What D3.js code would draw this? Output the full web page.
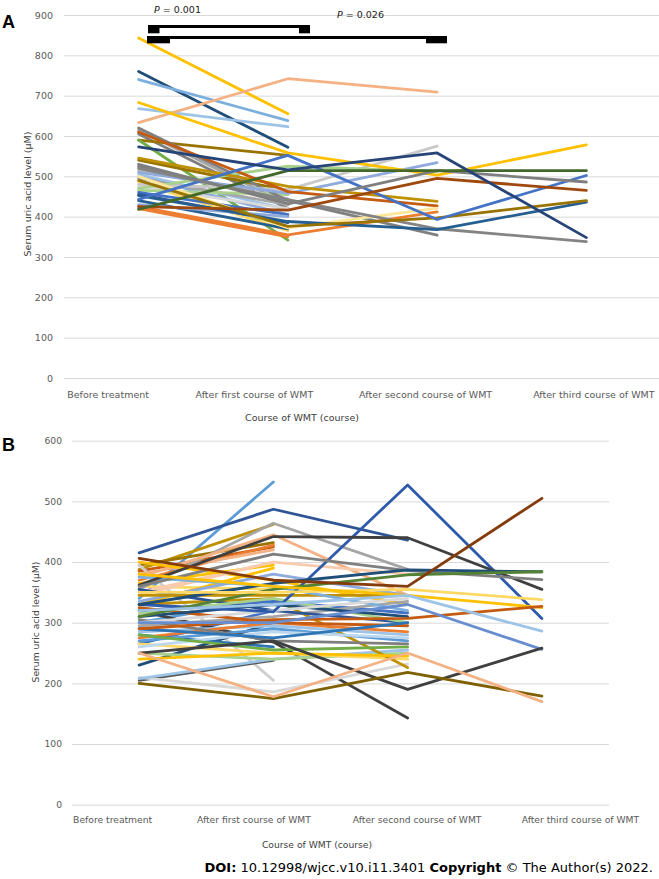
<!DOCTYPE html>
<html>
<head>
<meta charset="utf-8">
<script src="https://cdnjs.cloudflare.com/ajax/libs/d3/7.8.5/d3.min.js"></script>
<style>
body { margin: 0; background: #fff; }
svg text { font-family: "DejaVu Sans", Verdana, sans-serif; }
</style>
</head>
<body>
<div id="chart"></div>
<script>
// Categories (x axis)
var categories = ["Before treatment", "After first course of WMT", "After second course of WMT", "After third course of WMT"];

// Tick labels
var ticksA = [0, 100, 200, 300, 400, 500, 600, 700, 800, 900];
var ticksB = [0, 100, 200, 300, 400, 500, 600];

// Panel A: one row per patient, serum uric acid at each course (shorter row = fewer courses)
var patientsA = [
	[843, 655], [760, 572], [740, 638], [668, 623], [615, 430], [605, 420],
	[590, 552], [590, 342], [540, 465], [525, 440], [515, 445], [505, 418],
	[500, 405], [495, 430], [485, 365], [475, 420], [465, 455], [460, 405],
	[455, 385], [440, 370], [430, 400], [420, 350],
	[633, 742, 709], [620, 440, 354], [480, 467, 575], [510, 458, 534],
	[470, 525, 512], [545, 475, 438], [610, 462, 427], [500, 372, 421], [425, 355, 412],
	[683, 558, 503, 578], [520, 442, 370, 338], [452, 388, 368, 436], [490, 376, 397, 440],
	[443, 552, 393, 502], [425, 416, 495, 465], [530, 432, 514, 486], [418, 514, 514, 514],
	[573, 516, 558, 348]
];

// Panel B
var patientsB = [
	[340, 532], [388, 462], [385, 425], [395, 432], [370, 428], [365, 395],
	[360, 355], [395, 205], [205, 238], [230, 300], [350, 400], [380, 420],
	[330, 390], [300, 340], [280, 260], [265, 320],
	[415, 487, 436], [355, 464, 388], [375, 445, 345], [320, 268, 143], [210, 186, 232],
	[208, 240, 255], [250, 240, 250], [265, 250, 240], [330, 340, 226], [400, 370, 330],
	[345, 400, 380], [335, 380, 345], [320, 335, 316], [295, 310, 335], [285, 295, 280],
	[275, 300, 285], [270, 290, 270], [260, 285, 275], [325, 300, 295], [355, 320, 300],
	[305, 270, 265], [280, 255, 260], [240, 250, 245], [345, 345, 345], [315, 340, 300],
	[290, 275, 300], [310, 330, 310], [375, 360, 320], [300, 320, 340],
	[330, 318, 527, 307], [362, 442, 440, 355], [360, 413, 386, 371], [330, 365, 387, 384],
	[310, 355, 379, 384], [350, 350, 355, 338], [380, 360, 345, 325], [290, 305, 307, 327],
	[320, 330, 345, 286], [300, 300, 330, 256], [250, 270, 190, 258], [200, 175, 218, 179],
	[250, 178, 250, 170], [406, 370, 360, 505]
];

// line colours, same order as the rows
var colorsA = [
	"#FFC000", "#1F4E79", "#7CAFDD", "#9DC3E6", "#A5A5A5", "#7F7F7F",
	"#997300", "#70AD47", "#997300", "#7F7F7F", "#BFBFBF", "#9DC3E6",
	"#8FAADC", "#A5A5A5", "#FFD966", "#D9D9D9", "#A9D18E", "#4472C4",
	"#2F5597", "#255E91", "#8FAADC", "#ED7D31",
	"#F4B183", "#808080", "#C9C9C9", "#8FAADC",
	"#A9D18E", "#BF9000", "#C55A11", "#FFE699", "#ED7D31",
	"#FFC000", "#848484", "#255E91", "#997300",
	"#4472C4", "#9E480E", "#7F7F7F", "#43682B",
	"#264478"
];
var colorsB = [
	"#5B9BD5", "#BF9000", "#C55A11", "#997300", "#ED7D31", "#FFC000",
	"#FFD966", "#D0CECE", "#595959", "#1F4E79", "#F8CBAD", "#F4B183",
	"#FFC000", "#5B9BD5", "#2E75B6", "#4472C4",
	"#2F5597", "#A5A5A5", "#F4B183", "#404040", "#D9D9D9",
	"#9DC3E6", "#A9D18E", "#FFD966", "#BF9000", "#FFC000",
	"#F8CBAD", "#8FAADC", "#4472C4", "#A5A5A5", "#9DC3E6",
	"#ED7D31", "#5B9BD5", "#BDD7EE", "#C55A11", "#2F5597",
	"#7F7F7F", "#70AD47", "#FFC000", "#BF9000", "#A9D18E",
	"#2E75B6", "#1F4E79", "#7CAFDD", "#D9D9D9",
	"#2E5AAC", "#404040", "#7F7F7F", "#1F4E79",
	"#548235", "#FFD966", "#FFC000", "#C55A11",
	"#9DC3E6", "#698ED0", "#404040", "#7F6000",
	"#F4B183", "#843C0C"
];

var svg = d3.select("#chart").append("svg")
	.attr("width", 659)
	.attr("height", 879);

function drawPanel(cfg) {
	var g = svg.append("g");

	var x = d3.scalePoint()
		.domain(categories)
		.range([cfg.left, cfg.right])
		.padding(0.5);

	var y = d3.scaleLinear()
		.domain([0, cfg.max])
		.range([cfg.bottom, cfg.top]);

	// gridlines + tick labels
	var yAxis = d3.axisLeft(y).tickValues(cfg.ticks)
		.tickSize(-(cfg.gridRight - cfg.left)).tickPadding(cfg.pad);
	g.append("g")
		.attr("class", "y axis")
		.attr("transform", "translate(" + cfg.left + ",0)")
		.call(yAxis)
		.call(function(a) {
			a.select(".domain").remove();
			a.selectAll("line").attr("stroke", "#d9d9d9").attr("stroke-width", 1);
			a.selectAll("text").attr("fill", "#595959").style("font-size", cfg.font + "px")
				.style("font-family", '"DejaVu Sans", Verdana, sans-serif');
		});

	var xAxis = d3.axisBottom(x).tickSize(0).tickPadding(0);
	g.append("g")
		.attr("class", "x axis")
		.attr("transform", "translate(0," + cfg.labelY + ")")
		.call(xAxis)
		.call(function(a) {
			a.select(".domain").remove();
			a.selectAll("text")
				.attr("y", 0).attr("dy", 0)
				.attr("dx", function(d, i) { return cfg.labelShift[i]; })
				.attr("fill", "#595959")
				.style("font-size", cfg.font + "px")
				.style("font-family", '"DejaVu Sans", Verdana, sans-serif');
		});

	var line = d3.line()
		.defined(function(d) { return d != null; })
		.x(function(d, i) { return x(categories[i]); })
		.y(function(d) { return y(d); });

	g.selectAll(".patient")
		.data(cfg.rows)
		.enter().append("path")
		.attr("class", "patient")
		.attr("d", function(d) { return line(d); })
		.attr("fill", "none")
		.attr("stroke", function(d, i) { return cfg.colors[i]; })
		.attr("stroke-width", 2.8)
		.attr("stroke-linecap", "round")
		.attr("stroke-linejoin", "round");

	// axis titles
	g.append("text")
		.attr("transform", "translate(" + cfg.yTitleX + "," + cfg.yTitleY + ") rotate(-90)")
		.attr("text-anchor", "middle")
		.attr("fill", "#404040")
		.style("font-size", cfg.font + "px")
		.text("Serum uric acid level (\u03bcM)");

	g.append("text")
		.attr("x", cfg.xTitleX)
		.attr("y", cfg.xTitleY)
		.attr("text-anchor", "middle")
		.attr("fill", "#404040")
		.style("font-size", cfg.font + "px")
		.text("Course of WMT (course)");

	// panel letter
	g.append("text")
		.attr("x", cfg.letterX)
		.attr("y", cfg.letterY)
		.style("font-family", '"Liberation Sans", Arial, sans-serif')
		.style("font-weight", "bold")
		.style("font-size", "18px")
		.text(cfg.letter);

	return { x: x, y: y, g: g };
}

var a = drawPanel({
	rows: patientsA, colors: colorsA, ticks: ticksA, max: 900,
	left: 64, right: 661, gridRight: 659, top: 15, bottom: 378,
	pad: 11, font: 9.5, labelY: 398, labelShift: [-31, -34, -12, 7],
	yTitleX: 31, yTitleY: 194, xTitleX: 302, xTitleY: 421,
	letter: "A", letterX: 2, letterY: 28
});

drawPanel({
	rows: patientsB, colors: colorsB, ticks: ticksB, max: 600,
	left: 72, right: 609, gridRight: 609, top: 440.7, bottom: 804.7,
	pad: 10, font: 9.2, labelY: 823, labelShift: [-27, -20, 9, 38],
	yTitleX: 39, yTitleY: 622, xTitleX: 317, xTitleY: 848,
	letter: "B", letterX: 2, letterY: 451
});

// significance brackets on panel A
var br = a.g.append("g").attr("fill", "#000");
br.append("rect").attr("x", 148).attr("y", 25).attr("width", 162).attr("height", 3);
br.append("rect").attr("x", 148).attr("y", 25).attr("width", 11.5).attr("height", 8.3);
br.append("rect").attr("x", 299).attr("y", 25).attr("width", 11).attr("height", 8.3);
br.append("rect").attr("x", 147).attr("y", 36).attr("width", 300).attr("height", 3);
br.append("rect").attr("x", 147).attr("y", 36).attr("width", 23).attr("height", 7.3);
br.append("rect").attr("x", 426).attr("y", 36).attr("width", 21).attr("height", 7.3);

function pLabel(px, py, val) {
	var t = a.g.append("text").attr("x", px).attr("y", py)
		.attr("fill", "#222").style("font-size", "9.5px");
	t.append("tspan").style("font-style", "italic").text("P");
	t.append("tspan").text(" = " + val);
}
pLabel(154, 13, "0.001");
pLabel(337, 17.5, "0.026");

// footer
var foot = svg.append("text")
	.attr("x", 653).attr("y", 872)
	.attr("text-anchor", "end")
	.attr("fill", "#000")
	.style("font-size", "13px");
foot.append("tspan").style("font-weight", "bold").text("DOI:");
foot.append("tspan").text(" 10.12998/wjcc.v10.i11.3401 ");
foot.append("tspan").style("font-weight", "bold").text("Copyright");
foot.append("tspan").text(" \u00a9 The Author(s) 2022.");
</script>
</body>
</html>
